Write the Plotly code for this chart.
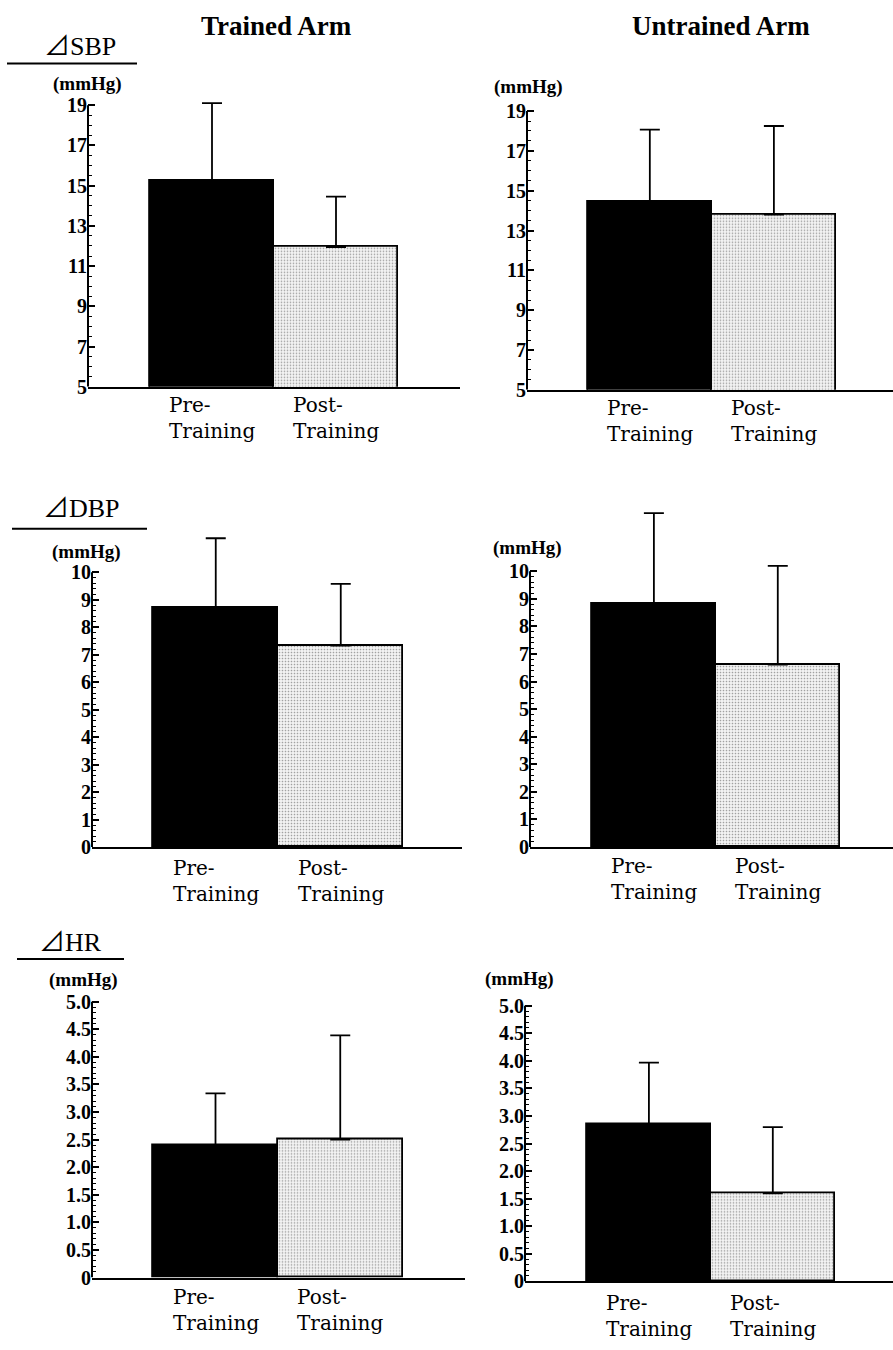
import plotly.graph_objects as go

# ---------------- data ----------------
categories = ["Pre-Training", "Post-Training"]
category_labels = ["Pre-<br>Training", "Post-<br>Training"]

trained_sbp = [15.25, 11.95]
trained_sbp_sd = [3.85, 2.5]
untrained_sbp = [14.47, 13.8]
untrained_sbp_sd = [3.6, 4.45]

trained_dbp = [8.72, 7.33]
trained_dbp_sd = [2.52, 2.25]
untrained_dbp = [8.8, 6.62]
untrained_dbp_sd = [3.31, 3.58]

trained_hr = [2.4, 2.5]
trained_hr_sd = [0.94, 1.89]
untrained_hr = [2.85, 1.6]
untrained_hr_sd = [1.12, 1.2]

sbp_ticks = [5, 7, 9, 11, 13, 15, 17, 19]
sbp_ticktext = ["5", "7", "9", "11", "13", "15", "17", "19"]
dbp_ticks = [0, 1, 2, 3, 4, 5, 6, 7, 8, 9, 10]
dbp_ticktext = ["0", "1", "2", "3", "4", "5", "6", "7", "8", "9", "10"]
hr_ticks = [0, 0.5, 1.0, 1.5, 2.0, 2.5, 3.0, 3.5, 4.0, 4.5, 5.0]
hr_ticktext = ["0", "0.5", "1.0", "1.5", "2.0", "2.5", "3.0", "3.5", "4.0", "4.5", "5.0"]

column_titles = ["Trained Arm", "Untrained Arm"]
row_titles = ["⊿SBP", "⊿DBP", "⊿HR"]
unit_label = "(mmHg)"

# ---------------- layout geometry (pixels) ----------------
W, H = 893, 1350
SERIF = "Liberation Serif, DejaVu Serif, Noto Sans CJK JP, serif"
LABEL_FONT = "DejaVu Serif, Liberation Serif, serif"
EXT = 75  # extra plot height above the top tick so error bars are not clipped

def px(x):
    return x / W

def py(y):
    return 1 - y / H

panels = [
    dict(vals=trained_sbp, sd=trained_sbp_sd, ticks=sbp_ticks, tt=sbp_ticktext, yr=[5, 19], mdt=0.5,
         x0=88, x1=460, yt=106, yb=390, xr=[-1, 2], unit=(87, 85), lab=421),
    dict(vals=untrained_sbp, sd=untrained_sbp_sd, ticks=sbp_ticks, tt=sbp_ticktext, yr=[5, 19], mdt=0.5,
         x0=527, x1=893, yt=112, yb=393, xr=[-0.99, 1.96], unit=(528, 88), lab=424),
    dict(vals=trained_dbp, sd=trained_dbp_sd, ticks=dbp_ticks, tt=dbp_ticktext, yr=[0, 10], mdt=0.2,
         x0=92, x1=462, yt=577, yb=854, xr=[-0.99, 1.97], unit=(86, 557), lab=888),
    dict(vals=untrained_dbp, sd=untrained_dbp_sd, ticks=dbp_ticks, tt=dbp_ticktext, yr=[0, 10], mdt=0.2,
         x0=530, x1=893, yt=576, yb=854, xr=[-1, 1.93], unit=(527, 552), lab=886),
    dict(vals=trained_hr, sd=trained_hr_sd, ticks=hr_ticks, tt=hr_ticktext, yr=[0, 5], mdt=0.1,
         x0=92, x1=465, yt=1010, yb=1288, xr=[-0.99, 2], unit=(83, 988), lab=1321),
    dict(vals=untrained_hr, sd=untrained_hr_sd, ticks=hr_ticks, tt=hr_ticktext, yr=[0, 5], mdt=0.1,
         x0=525, x1=893, yt=1014, yb=1292, xr=[-1, 1.97], unit=(519, 987), lab=1327),
]

fig = go.Figure()
annotations = []
shapes = []

for i, p in enumerate(panels):
    n = "" if i == 0 else str(i + 1)
    xa, ya = "x" + n, "y" + n
    y0, y1 = p["yr"]
    ppu = (p["yb"] - p["yt"]) / (y1 - y0)
    top = y1 + EXT / ppu
    nminor = int(round((y1 - y0) / p["mdt"]))
    minor_vals = [round(y0 + k * p["mdt"], 4) for k in range(nminor + 1)]

    fig.add_trace(go.Bar(
        x=categories, y=p["vals"], xaxis=xa, yaxis=ya, width=1,
        marker=dict(
            color=["black", "#f4f4f4"],
            line=dict(color="black", width=1.8),
            pattern=dict(shape=["", "."], fgcolor="#8c8c8c", bgcolor="#f5f5f5",
                         size=3, solidity=0.25),
        ),
        error_y=dict(type="data", array=p["sd"], arrayminus=[0, 0], symmetric=False,
                     color="black", thickness=1.8, width=10),
        cliponaxis=False, showlegend=False, hoverinfo="skip",
    ))
    fig.layout["xaxis" + n] = dict(
        domain=[px(p["x0"]), px(p["x1"])], anchor=ya, range=p["xr"],
        type="category", showticklabels=False, ticks="", showgrid=False, zeroline=False,
        showline=True, linecolor="black", linewidth=2, fixedrange=True,
    )
    fig.layout["yaxis" + n] = dict(
        domain=[py(p["yb"]), py(p["yt"] - EXT)], anchor=xa, range=[y0, top],
        tickmode="array", tickvals=p["ticks"], ticktext=p["tt"],
        ticks="inside", ticklen=7, tickwidth=1.8, tickcolor="black",
        minor=dict(tickmode="array", tickvals=minor_vals, ticks="inside", ticklen=4,
                   tickwidth=1.3, tickcolor="black", showgrid=False),
        showgrid=False, zeroline=False, showline=False,
        tickfont=dict(family=SERIF, size=20, color="black", weight="bold"),
        fixedrange=True,
    )
    # visible y axis line only over the labelled range
    shapes.append(dict(type="line", xref=xa + " domain", yref=ya, x0=0, x1=0, y0=y0, y1=y1,
                       line=dict(color="black", width=2)))
    # unit label
    annotations.append(dict(text=unit_label, xref="paper", yref="paper",
                            x=px(p["unit"][0]), y=py(p["unit"][1]), xanchor="center", yanchor="middle",
                            showarrow=False, font=dict(family=SERIF, size=19, color="black", weight="bold")))
    # category labels (two lines, left aligned)
    for c, lab in zip(categories, category_labels):
        annotations.append(dict(text=lab, xref=xa, yref="paper", x=c, y=py(p["lab"]),
                                xanchor="center", yanchor="middle", align="left", showarrow=False,
                                font=dict(family=LABEL_FONT, size=20, color="black")))

# column titles
for t, cx in zip(column_titles, [276, 721]):
    annotations.append(dict(text=t, xref="paper", yref="paper", x=px(cx), y=py(26),
                            xanchor="center", yanchor="middle", showarrow=False,
                            font=dict(family=SERIF, size=27, color="black", weight="bold")))

# row titles with underline
row_geo = [(80, 47, 7, 137, 64), (81, 513, 12, 147, 533), (70, 950, 17, 124, 967)]
for t, (cx, cy, ux0, ux1, uy) in zip(row_titles, row_geo):
    annotations.append(dict(text=t, xref="paper", yref="paper", x=px(cx), y=py(cy),
                            xanchor="center", yanchor="middle", showarrow=False,
                            font=dict(family=SERIF, size=26, color="black")))
    shapes.append(dict(type="line", xref="paper", yref="paper",
                       x0=px(ux0), x1=px(ux1), y0=py(uy), y1=py(uy),
                       line=dict(color="black", width=2)))

fig.update_layout(
    width=W, height=H, margin=dict(l=0, r=0, t=0, b=0),
    paper_bgcolor="white", plot_bgcolor="white",
    annotations=annotations, shapes=shapes, showlegend=False, bargap=0,
)

fig.write_html("out.html", config={"displayModeBar": False},
               post_script="document.body.style.margin='0';document.body.style.overflow='hidden';")
